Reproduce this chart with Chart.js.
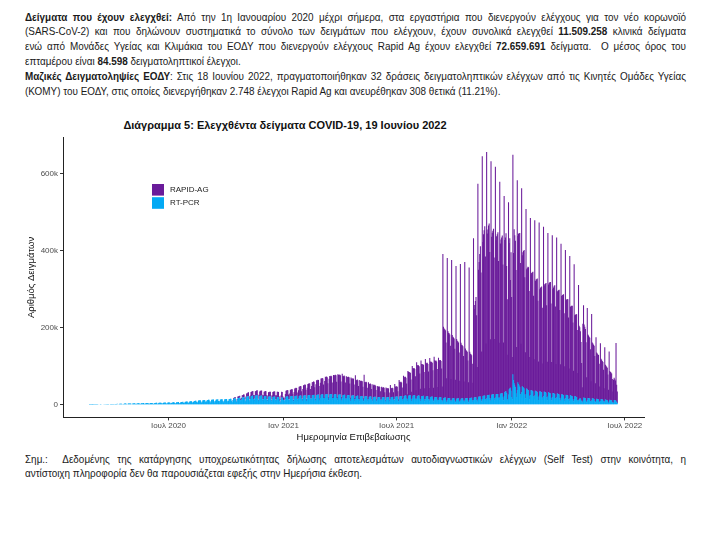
<!DOCTYPE html>
<html lang="el">
<head>
<meta charset="utf-8">
<title>Διάγραμμα 5</title>
<script src="https://cdn.jsdelivr.net/npm/chart.js@4.4.1/dist/chart.umd.min.js"></script>
<style>
  html, body { margin: 0; padding: 0; background: #fff; }
  body { width: 710px; height: 552px; position: relative; overflow: hidden; }
  .txt { position: absolute; left: 25px; width: 734.4px; color: #1a1a1a;
         font-family: "Liberation Sans", Arial, sans-serif;
         font-size: 11px; line-height: 14.8px;
         transform: scaleX(0.9); transform-origin: 0 0; }
  .txt div { white-space: nowrap; }
  .txt .j { text-align: justify; text-align-last: justify; white-space: normal; }
  #chartTitle { position: absolute; left: 0; width: 570px; top: 119px; text-align: center;
                font: bold 11px "Liberation Sans", Arial, sans-serif; color: #111; }
  #chart { position: absolute; left: 0; top: 105px; }
</style>
</head>
<body>

<div class="txt" style="top:9.6px">
  <div class="j"><b>Δείγματα που έχουν ελεγχθεί:</b> Από την 1η Ιανουαρίου 2020 μέχρι σήμερα, στα εργαστήρια που διενεργούν ελέγχους για τον νέο κορωνοϊό</div>
  <div class="j">(SARS-CoV-2) και που δηλώνουν συστηματικά το σύνολο των δειγμάτων που ελέγχουν, έχουν συνολικά ελεγχθεί <b>11.509.258</b> κλινικά δείγματα</div>
  <div class="j">ενώ από Μονάδες Υγείας και Κλιμάκια του ΕΟΔΥ που διενεργούν ελέγχους Rapid Ag έχουν ελεγχθεί <b>72.659.691</b> δείγματα.&nbsp; Ο μέσος όρος του</div>
  <div>επταμέρου είναι <b>84.598</b> δειγματοληπτικοί έλεγχοι.</div>
  <div class="j"><b>Μαζικές Δειγματοληψίες ΕΟΔΥ</b>: Στις 18 Ιουνίου 2022, πραγματοποιήθηκαν 32 δράσεις δειγματοληπτικών ελέγχων από τις Κινητές Ομάδες Υγείας</div>
  <div>(ΚΟΜΥ) του ΕΟΔΥ, στις οποίες διενεργήθηκαν 2.748 έλεγχοι Rapid Ag και ανευρέθηκαν 308 θετικά (11.21%).</div>
</div>

<div id="chartTitle">Διάγραμμα 5: Ελεγχθέντα δείγματα COVID-19, 19 Ιουνίου 2022</div>
<canvas id="chart" width="710" height="340"></canvas>

<div class="txt" style="top:451.6px">
  <div class="j">Σημ.:&nbsp; Δεδομένης της κατάργησης υποχρεωτικότητας δήλωσης αποτελεσμάτων αυτοδιαγνωστικών ελέγχων (Self Test) στην κοινότητα, η</div>
  <div>αντίστοιχη πληροφορία δεν θα παρουσιάζεται εφεξής στην Ημερήσια έκθεση.</div>
</div>

<script>
// Ημέρες μετρημένες από Δευτέρα 24/2/2020 (ημέρα 0) έως Κυριακή 19/6/2022 (ημέρα 846)
// τιμές σε χιλιάδες δείγματα, μία γραμμή ανά εβδομάδα (Δευ..Κυρ)
const pcrTests = [
  0,0,0.1,0.2,0.3,0.2,0.1,          // 24/2/2020
  0.3,0.4,0.5,0.6,0.7,0.5,0.3,
  0.6,0.8,0.9,1.0,1.1,0.8,0.5,
  1.0,1.2,1.3,1.4,1.5,1.1,0.7,
  1.3,1.5,1.6,1.7,1.8,1.3,0.9,
  1.5,1.8,1.9,2.0,2.1,1.5,1.0,      // 30/3
  1.6,1.9,2.0,2.1,2.2,1.4,1.0,
  1.8,2.2,2.4,2.5,2.6,1.8,1.2,
  2.0,2.6,2.8,3.0,3.1,2.1,1.3,
  2.2,2.8,3.0,3.2,3.3,2.2,1.4,
  2.5,3.2,3.4,3.6,3.7,2.5,1.6,      // 4/5
  2.6,3.4,3.6,3.8,3.9,2.6,1.7,
  2.8,3.6,3.8,4.0,4.1,2.8,1.8,
  3.0,3.9,4.1,4.3,4.4,3.0,1.9,
  3.2,4.2,4.4,4.6,4.7,3.2,2.0,      // 1/6
  3.4,4.5,4.7,4.9,5.0,3.4,2.1,
  3.6,4.8,5.0,5.2,5.3,3.6,2.2,
  3.8,5.1,5.3,5.5,5.6,3.8,2.3,
  4.0,5.4,5.6,5.8,6.0,4.0,2.5,      // 29/6
  4.3,5.8,6.0,6.2,6.4,4.3,2.7,
  4.6,6.2,6.4,6.6,6.8,4.6,2.9,
  5.0,6.8,7.0,7.2,7.4,5.0,3.2,
  5.5,7.6,7.8,8.0,8.2,5.5,3.5,
  6.2,8.6,8.8,9.0,9.2,6.2,4.0,      // 3/8
  7.0,9.6,9.8,10.2,10.4,7.0,4.5,
  7.8,10.8,11.0,11.4,11.6,7.8,5.0,
  8.4,11.6,11.8,12.2,12.4,8.4,5.4,
  8.8,12.2,12.4,12.8,13.0,8.8,5.6,  // 31/8
  9.0,12.6,12.8,13.2,13.4,9.0,5.8,
  9.4,13.0,13.4,13.8,14.0,9.4,6.0,
  9.6,13.4,13.8,14.2,14.4,9.6,6.2,
  10.0,14.0,14.4,14.8,15.0,10.0,6.4,
  10.4,14.6,15.0,15.4,15.6,10.4,6.6, // 5/10
  11.0,15.6,16.0,16.4,16.6,11.0,7.0,
  12.0,17.0,17.4,17.8,18.0,12.0,7.6,
  13.0,18.6,19.0,19.4,19.6,13.0,8.2,
  14.0,20.4,21.0,21.6,22.0,14.2,9.0, // 2/11
  15.0,22.0,22.6,23.2,23.6,15.0,9.6,
  15.4,23.0,23.6,24.0,24.4,15.4,10.0,
  15.0,22.4,23.0,23.4,23.6,15.0,9.6,
  14.4,21.4,22.0,22.4,22.6,14.4,9.2, // 30/11
  13.8,20.6,21.0,21.4,21.6,13.8,8.8,
  13.4,20.0,20.4,20.8,21.0,13.4,8.6,
  12.8,19.4,19.8,20.0,14.0,9.0,6.0,
  12.0,18.6,19.0,14.0,12.0,12.0,8.0,
  13.6,20.4,21.0,21.4,21.6,13.6,8.6, // 4/1/2021
  14.4,21.6,22.0,22.4,22.8,14.4,9.0,
  14.8,22.2,22.6,23.0,23.4,14.8,9.4,
  15.2,22.8,23.2,23.6,24.0,15.2,9.6,
  15.6,23.4,23.8,24.2,24.6,15.6,9.8, // 1/2
  16.0,24.0,24.4,24.8,25.2,16.0,10.0,
  16.4,24.6,25.0,25.4,25.8,16.4,10.2,
  16.8,25.2,25.6,26.0,26.4,16.8,10.4,
  17.2,25.8,26.2,26.6,27.0,17.2,10.6, // 1/3
  17.6,26.4,26.8,27.2,27.6,17.6,10.8,
  17.6,26.6,27.0,27.4,27.8,17.6,10.8,
  17.4,26.2,26.6,27.0,27.4,17.4,10.6,
  17.0,25.6,26.0,26.4,26.8,17.0,10.4, // 29/3
  16.4,24.8,25.2,25.6,26.0,16.4,10.0,
  16.0,24.0,24.4,24.8,25.2,16.0,9.8,
  15.4,23.2,23.6,24.0,24.4,15.4,9.4,
  14.8,22.4,22.8,23.2,23.6,14.8,9.0,
  14.4,21.6,22.0,22.4,22.8,14.4,8.8, // 3/5
  14.0,21.0,21.4,21.8,22.0,14.0,8.6,
  13.6,20.4,20.8,21.2,21.4,13.6,8.4,
  13.2,19.8,20.2,20.6,20.8,13.2,8.2,
  12.8,19.2,19.6,20.0,20.2,12.8,8.0, // 31/5
  12.6,18.8,19.2,19.6,19.8,12.6,7.8,
  12.6,18.8,19.2,19.6,19.8,12.6,7.8,
  13.0,19.4,19.8,20.2,20.4,13.0,8.0,
  13.6,20.4,20.8,21.2,21.4,13.6,8.4, // 28/6
  14.4,21.6,22.0,22.4,22.6,14.4,8.8,
  15.2,22.8,23.2,23.6,23.8,15.2,9.4,
  15.6,23.4,23.8,24.2,24.4,15.6,9.6,
  15.6,23.4,23.8,24.2,24.4,15.6,9.6,
  15.2,22.8,23.2,23.6,23.8,15.2,9.4, // 2/8
  14.6,22.0,22.4,22.8,23.0,14.6,9.0,
  14.0,21.0,21.4,21.8,22.0,14.0,8.6,
  13.4,20.0,20.4,20.8,21.0,13.4,8.2,
  12.8,19.2,19.6,20.0,20.2,12.8,7.8,
  12.2,18.4,18.8,19.2,19.4,12.2,7.4, // 6/9
  11.6,17.4,17.8,18.2,18.4,11.6,7.0,
  11.0,16.6,17.0,17.4,17.6,11.0,6.8,
  10.6,16.0,16.4,16.8,17.0,10.6,6.6,
  10.4,15.6,16.0,16.4,16.6,10.4,6.4, // 4/10
  10.4,15.6,16.0,16.4,16.6,10.4,6.4,
  10.8,16.2,16.6,17.0,17.2,10.8,6.6,
  11.4,17.2,17.6,18.0,18.2,11.4,7.0,
  12.4,18.6,19.0,19.4,19.6,12.4,7.6, // 1/11
  13.6,20.4,20.8,21.2,21.4,13.6,8.4,
  15.0,22.6,23.0,23.4,23.6,15.0,9.2,
  16.4,24.6,25.0,25.4,25.6,16.4,10.0,
  17.4,26.0,26.4,26.8,27.0,17.4,10.6, // 29/11
  18.0,27.0,27.4,27.8,28.0,18.0,11.0,
  19.0,28.6,29.0,29.4,29.6,19.0,11.6,
  22.0,33.0,34.0,35.0,30.0,14.0,10.0,
  26.0,40.0,42.0,44.0,36.0,20.0,14.0,
  79.0,64.0,56.0,50.0,46.0,30.0,20.0, // 3/1/2022
  38.0,58.0,54.0,50.0,46.0,28.0,18.0,
  32.0,48.0,46.0,44.0,42.0,26.0,16.0,
  28.0,42.0,40.0,38.0,37.0,23.0,14.0,
  25.0,38.0,37.0,36.0,35.0,21.0,13.0, // 31/1
  24.0,36.0,35.0,34.0,33.0,20.0,12.0,
  23.0,35.0,34.0,33.0,32.0,19.0,12.0,
  22.0,34.0,33.0,32.0,31.0,18.6,11.6,
  21.0,32.0,31.0,30.0,29.0,17.6,11.0, // 28/2
  20.0,30.4,29.6,28.8,28.0,16.8,10.6,
  19.0,29.0,28.2,27.4,26.6,16.0,10.0,
  18.0,27.4,26.6,25.8,25.0,15.2,9.6,
  17.0,26.0,25.2,24.4,23.6,14.4,9.0, // 28/3
  16.0,24.4,23.6,22.8,22.0,13.4,8.4,
  14.6,22.4,21.6,20.8,20.0,12.2,7.6,
  11.0,15.0,16.0,16.0,13.0,8.0,5.0,
  10.0,18.0,18.0,17.4,16.8,10.4,6.6, // 25/4
  11.4,17.6,17.0,16.4,15.8,9.8,6.2,
  10.8,16.6,16.0,15.4,14.8,9.2,5.8,
  10.2,15.6,15.0,14.4,13.8,8.6,5.4,
  9.6,14.6,14.0,13.4,12.8,8.0,5.0,
  9.0,13.6,13.0,12.4,11.8,7.4,4.6,   // 30/5
  8.4,12.6,12.0,11.4,11.0,7.0,4.4,
  5.0,12.0,11.4,10.8,10.4,6.6,4.2    // 13/6
];

// Rapid Ag ξεκινά τη Δευτέρα 12/10/2020 (ημέρα 231)
const rapidFirstDay = 231;
const rapidAg = [
  1,2,2,3,3,2,1,                    // 12/10/2020
  3,4,4,5,5,4,1,
  5,6,6,7,7,6,2,
  7,9,9,10,10,8,2,                  // 2/11
  9,11,11,12,12,10,3,
  10,12,12,13,13,11,3,
  10,12,13,13,13,11,3,
  10,12,12,13,12,10,3,              // 30/11
  10,12,12,12,12,10,3,
  11,13,13,14,13,11,3,
  12,14,14,13,8,6,2,
  12,15,14,8,6,7,2,
  14,16,16,17,16,13,3,              // 4/1/2021
  15,17,17,18,17,14,4,
  18,20,20,21,20,17,4,
  22,24,24,25,24,20,5,
  25,27,27,28,27,23,5,              // 1/2
  28,30,30,31,30,25,6,
  32,34,34,35,34,29,6,
  36,38,38,39,38,32,7,
  40,42,42,43,41,35,8,              // 1/3
  44,46,45,46,44,38,8,
  50,48,47,48,46,40,9,
  60,50,50,51,49,42,9,
  62,52,51,52,50,43,9,              // 29/3
  64,50,49,50,48,41,9,
  58,48,47,48,46,39,8,
  55,45,44,45,43,37,8,
  62,42,41,42,40,34,8,
  50,40,39,40,38,32,7,              // 3/5
  64,38,37,38,36,30,7,
  45,34,33,34,32,27,6,
  40,31,30,31,29,25,6,
  36,28,27,28,26,22,5,              // 31/5
  34,26,25,26,24,20,5,
  32,24,23,24,22,19,5,
  38,24,23,24,22,19,5,
  40,27,26,27,25,21,6,              // 28/6
  50,38,36,37,35,30,10,
  60,50,48,49,46,40,18,
  72,62,60,61,58,50,24,
  85,72,70,71,68,58,28,
  95,80,78,79,76,66,32,             // 2/8
  100,84,82,83,80,70,34,
  105,88,86,87,84,72,35,
  108,92,90,91,88,76,36,
  112,96,94,95,92,80,38,
  110,98,96,97,94,82,40,            // 6/9
  380,185,180,178,175,150,62,       // 13/9
  370,175,170,168,165,142,60,
  365,165,160,158,155,135,58,
  350,155,150,148,145,125,56,       // 4/10
  355,145,140,138,135,116,54,
  360,130,125,123,120,104,52,
  345,120,115,113,110,95,50,
  420,230,240,250,260,220,90,       // 1/11
  560,330,350,370,390,330,130,
  630,400,420,430,440,370,150,
  640,420,430,440,445,380,160,
  615,410,420,425,430,365,160,      // 29/11
  600,400,410,415,420,355,150,
  560,390,400,405,410,345,150,
  520,395,400,410,330,260,120,
  500,380,390,280,360,260,110,
  570,330,400,390,380,320,130,      // 3/1/2022
  545,380,390,395,400,340,140,
  530,340,350,355,360,305,120,
  480,310,315,320,320,272,110,
  460,300,305,308,310,262,105,      // 31/1
  455,285,290,292,295,250,100,
  450,265,270,272,275,233,95,
  440,275,280,282,285,240,100,
  425,280,285,288,290,245,100,      // 28/2
  420,270,275,280,282,238,95,
  415,265,268,270,272,230,95,
  400,255,258,260,262,222,90,
  385,245,248,250,250,212,85,       // 28/3
  370,230,232,234,235,200,80,
  350,210,212,214,215,182,75,
  300,190,185,175,150,100,40,
  200,240,190,185,180,152,65,       // 25/4
  240,165,163,160,158,134,55,
  225,145,143,140,138,117,50,
  165,120,118,116,115,98,42,
  150,105,103,100,98,83,38,
  140,90,88,86,84,71,34,            // 30/5
  130,75,73,72,70,60,30,
  60,58,55,52,150,45,30             // 13/6
];

const seriesLabels = ["RT-PCR", "RAPID-AG"];
const seriesColors = ["#03A9F4", "#6A1B9A"];

const xTickDays = [128, 312, 493, 677, 858];
const xTickLabels = ["Ιουλ 2020", "Ιαν 2021", "Ιουλ 2021", "Ιαν 2022", "Ιουλ 2022"];
const yTickValues = [0, 200, 400, 600];
const yTickLabels = ["0", "200k", "400k", "600k"];

const pcrPoints = pcrTests.map((v, i) => ({ x: i, y: v }));
const rapidPoints = rapidAg.map((v, i) => ({ x: rapidFirstDay + i, y: v }));

const axisFont = { family: "'Liberation Sans', Arial, sans-serif", size: 8 };
const titleFont = { family: "'Liberation Sans', Arial, sans-serif", size: 9.5 };

// υπόμνημα μέσα στο διάγραμμα
const insideLegend = {
  id: "insideLegend",
  afterDraw(chart) {
    const { ctx, chartArea } = chart;
    const x0 = chartArea.left + 89, y0 = chartArea.top + 46.5;
    const order = [1, 0];
    ctx.save();
    ctx.font = "8px 'Liberation Sans', Arial, sans-serif";
    ctx.textBaseline = "middle";
    order.forEach((di, row) => {
      const ds = chart.data.datasets[di];
      const y = y0 + row * 13.2;
      ctx.fillStyle = ds.backgroundColor;
      ctx.fillRect(x0, y, 12, 11.6);
      ctx.fillStyle = "#222";
      ctx.fillText(ds.label, x0 + 18, y + 6);
    });
    ctx.restore();
  }
};

const barOpts = { stack: "tests", barThickness: 1.05, inflateAmount: 0, borderWidth: 0 };

new Chart(document.getElementById("chart"), {
  type: "bar",
  data: {
    datasets: [
      { label: seriesLabels[0], data: pcrPoints, backgroundColor: seriesColors[0], ...barOpts },
      { label: seriesLabels[1], data: rapidPoints, backgroundColor: seriesColors[1], ...barOpts }
    ]
  },
  options: {
    responsive: false,
    animation: false,
    layout: { padding: { top: 32.5, right: 66, left: 0, bottom: 0 } },
    plugins: { legend: { display: false }, tooltip: { enabled: false } },
    scales: {
      x: {
        type: "linear",
        min: -40.75,
        max: 888.75,
        offset: false,
        afterBuildTicks: s => { s.ticks = xTickDays.map(v => ({ value: v })); },
        afterFit: s => { s.height = 27.6; },
        ticks: {
          autoSkip: false, maxRotation: 0, padding: 1, color: "#4d4d4d", font: axisFont,
          callback: (v, i) => xTickLabels[i]
        },
        grid: { display: true, drawOnChartArea: false, drawTicks: true, tickLength: 3, color: "#333", offset: false },
        border: { display: true, color: "#222", width: 1 },
        title: { display: true, text: "Ημερομηνία Επιβεβαίωσης", color: "#111", font: titleFont, padding: { top: 0, bottom: 2 } }
      },
      y: {
        stacked: true,
        min: -33,
        max: 694,
        afterBuildTicks: s => { s.ticks = yTickValues.map(v => ({ value: v })); },
        afterFit: s => { s.width = 63; },
        ticks: {
          padding: 2, color: "#4d4d4d", font: axisFont,
          callback: (v, i) => yTickLabels[i]
        },
        grid: { display: true, drawOnChartArea: false, drawTicks: true, tickLength: 3, color: "#333" },
        border: { display: true, color: "#222", width: 1 },
        title: { display: true, text: "Αριθμός Δειγμάτων", color: "#111", font: titleFont, padding: { top: 26, bottom: 0 } }
      }
    }
  },
  plugins: [insideLegend]
});
</script>
</body>
</html>
